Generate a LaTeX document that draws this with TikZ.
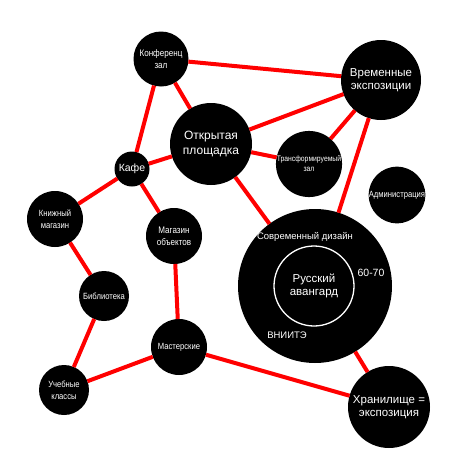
\documentclass[tikz,border=0pt]{standalone}
\usepackage{fontspec}
\setmainfont{Liberation Sans}
\newfontfamily\narrowfont[FakeStretch=0.85]{Liberation Sans}
\usetikzlibrary{positioning}

\begin{document}
\begin{tikzpicture}[x=1pt,y=-1pt,line width=4pt]
\tikzstyle{room}=[circle,fill=black,text=white,inner sep=0pt,align=center,line width=0pt]
\tikzstyle{every edge}=[draw=red]
\useasboundingbox (0,0) rectangle (474,474);

\node[room,minimum size=55pt,font=\narrowfont\fontsize{9.5}{12}\selectfont] (kz) at (161,59) {Конференц\\зал};
\node[room,minimum size=82pt,font=\fontsize{12}{15}\selectfont] (op) at (211,144) {Открытая\\площадка};
\node[room,minimum size=80pt,font=\fontsize{11.5}{13.5}\selectfont] (ve) at (381,80) {Временные\\экспозиции};
\node[room,minimum size=60pt,font=\narrowfont\fontsize{8}{10}\selectfont] (tz) at (309,164) {Трансформируемый\\зал};
\node[room,minimum size=56pt,font=\narrowfont\fontsize{9}{10}\selectfont] (adm) at (397,195) {Администрация};
\node[room,minimum size=35pt,font=\fontsize{10.5}{12}\selectfont] (cafe) at (132,169) {Кафе};
\node[room,minimum size=56pt,font=\narrowfont\fontsize{9}{11.5}\selectfont] (kn) at (55,219) {Книжный\\магазин};
\node[room,minimum size=56pt,font=\narrowfont\fontsize{9.5}{12}\selectfont] (mo) at (174,236) {Магазин\\объектов};
\node[room,minimum size=50pt,font=\narrowfont\fontsize{9}{10}\selectfont] (lib) at (104,296) {Библиотека};
\node[room,minimum size=56pt,font=\narrowfont\fontsize{9}{10}\selectfont] (ms) at (179,347) {Мастерские};
\node[room,minimum size=50pt,font=\narrowfont\fontsize{9}{11.5}\selectfont] (uk) at (64,390) {Учебные\\классы};
\node[room,minimum size=154pt] (sd) at (315,286) {};
\node[room,minimum size=82pt,font=\fontsize{11.5}{13.5}\selectfont] (hr) at (389,407) {Хранилище =\\экспозиция};

% inside the big circle
\node[circle,draw=white,line width=1.3pt,minimum size=80pt,inner sep=0pt,text=white,align=center,font=\fontsize{11.5}{13.5}\selectfont] (ra) at (314,286) {Русский\\авангард};
\node[text=white,font=\fontsize{9.5}{11}\selectfont] (sdlab) at (305,237) {Современный дизайн};
\node[text=white,font=\fontsize{10.5}{12}\selectfont] (years) at (371,273) {60-70};
\node[text=white,font=\fontsize{9.5}{11}\selectfont] (vniite) at (287,335) {ВНИИТЭ};

\path
(kz) edge (ve)
(kz) edge (op)
(kz) edge (cafe)
(op) edge (cafe)
(op) edge (ve)
(op) edge (tz)
(op) edge (sd)
(tz) edge (ve)
(ve) edge (sd)
(cafe) edge (kn)
(cafe) edge (mo)
(kn) edge (lib)
(lib) edge (uk)
(uk) edge (ms)
(mo) edge (ms)
(ms) edge (hr)
(sd) edge (hr);
\end{tikzpicture}
\end{document}
